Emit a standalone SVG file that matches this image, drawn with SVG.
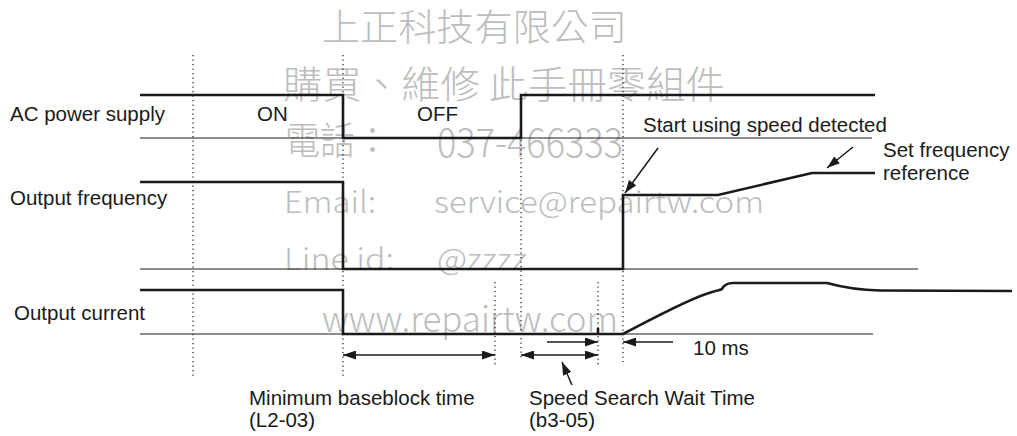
<svg xmlns="http://www.w3.org/2000/svg" width="1017" height="436" viewBox="0 0 1017 436">
<style>
.lbl{font-family:"Liberation Sans",Arial,sans-serif;font-size:20.5px;fill:#1a1a1a}
.thin{stroke:#1a1a1a;stroke-width:1;fill:none}
.thick{stroke:#1a1a1a;stroke-width:2.6;fill:none;stroke-linejoin:miter}
.dot{stroke:#1a1a1a;stroke-width:1.2;stroke-dasharray:1.2 3.3;fill:none}
.arr{stroke:#1a1a1a;stroke-width:1.5;fill:none}
.wm{font-family:"Noto Sans CJK TC","Noto Sans",sans-serif;font-weight:300;fill:#bdbdbd}
</style>
<defs>
<marker id="ah" viewBox="0 0 13 9" refX="13" refY="4.5" markerWidth="13" markerHeight="9" markerUnits="userSpaceOnUse" orient="auto-start-reverse">
<path d="M0,0 L13,4.5 L0,9 Z" fill="#1a1a1a"/>
</marker>
</defs>
<g id="watermark">
<text class="wm" x="322" y="41" font-size="37" textLength="305" lengthAdjust="spacingAndGlyphs">上正科技有限公司</text>
<text class="wm" x="283" y="98" font-size="38" textLength="442" lengthAdjust="spacingAndGlyphs">購買、維修 此手冊零組件</text>
<text class="wm" x="285" y="154" font-size="38" textLength="105" lengthAdjust="spacingAndGlyphs">電話：</text>
<text class="wm" x="437" y="157" font-size="40" textLength="186" lengthAdjust="spacingAndGlyphs">037-466333</text>
<text class="wm" x="284" y="213" font-size="30" textLength="92" lengthAdjust="spacingAndGlyphs">Email:</text>
<text class="wm" x="434" y="213" font-size="30" textLength="330" lengthAdjust="spacingAndGlyphs">service@repairtw.com</text>
<text class="wm" x="284" y="270" font-size="30" textLength="110" lengthAdjust="spacingAndGlyphs">Line id:</text>
<text class="wm" x="437" y="270" font-size="30" textLength="90" lengthAdjust="spacingAndGlyphs">@zzzz</text>
<text class="wm" x="322" y="332" font-size="35" textLength="296" lengthAdjust="spacingAndGlyphs">www.repairtw.com</text>
</g>
<g id="guides">
<line class="dot" x1="193" y1="55" x2="193" y2="377"/>
<line class="dot" x1="343" y1="55" x2="343" y2="377"/>
<line class="dot" x1="521" y1="140" x2="521" y2="360"/>
<line class="dot" x1="623" y1="55" x2="623" y2="362"/>
<line class="dot" x1="495" y1="282" x2="495" y2="365"/>
<line class="dot" x1="598" y1="282" x2="598" y2="365"/>
</g>
<g id="ac-power-supply">
<line class="thin" x1="140" y1="138" x2="872" y2="138"/>
<polyline class="thick" points="140,95 343,95 343,138 521,138 521,95 875,95"/>
<text class="lbl" x="10" y="121">AC power supply</text>
<text class="lbl" x="257" y="121">ON</text>
<text class="lbl" x="417" y="121">OFF</text>
</g>
<g id="output-frequency">
<line class="thin" x1="140" y1="269" x2="918" y2="269"/>
<polyline class="thick" points="140,182 343,182 343,269 623,269 623,195 718,195 812,173 875,173"/>
<text class="lbl" x="10" y="205">Output frequency</text>
</g>
<g id="output-current">
<line class="thin" x1="140" y1="334" x2="873" y2="334"/>
<polyline class="thick" points="140,290 343,290 343,334 623,334"/>
<line class="thick" x1="598" y1="328" x2="598" y2="334"/>
<path class="thick" d="M623,334 C650,320 690,298 712,292 C718,290 721,290 722,289 C724,285 727,283 733,283 L827,283 C845,288 858,290 880,290.5 L1012,291"/>
<text class="lbl" x="14" y="320">Output current</text>
</g>
<g id="connectors">
<line class="arr" x1="343" y1="355" x2="495" y2="355" marker-start="url(#ah)" marker-end="url(#ah)"/>
<line class="arr" x1="521" y1="355" x2="598" y2="355" marker-start="url(#ah)" marker-end="url(#ah)"/>
<line class="arr" x1="547" y1="342" x2="598" y2="342" marker-end="url(#ah)"/>
<line class="arr" x1="673" y1="342" x2="623" y2="342" marker-end="url(#ah)"/>
<line class="arr" x1="572" y1="385" x2="562" y2="362" marker-end="url(#ah)"/>
<line class="arr" x1="658" y1="148" x2="625" y2="193" marker-end="url(#ah)"/>
<line class="arr" x1="853" y1="147" x2="827" y2="168" marker-end="url(#ah)"/>
</g>
<g id="labels">
<text class="lbl" x="643" y="132">Start using speed detected</text>
<text class="lbl" x="883" y="157">Set frequency</text>
<text class="lbl" x="883" y="180">reference</text>
<text class="lbl" x="693" y="355">10 ms</text>
<text class="lbl" x="249" y="405">Minimum baseblock time</text>
<text class="lbl" x="249" y="427">(L2-03)</text>
<text class="lbl" x="529" y="405">Speed Search Wait Time</text>
<text class="lbl" x="529" y="427">(b3-05)</text>
</g>
</svg>
